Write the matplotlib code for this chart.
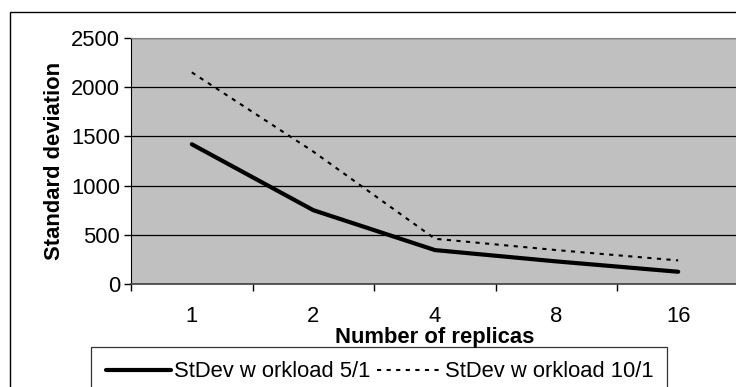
import matplotlib
import numpy as np
import matplotlib.pyplot as plt
from matplotlib.patches import Rectangle

matplotlib.use('Agg')

plt.rcParams['font.family'] = ['Liberation Sans', 'DejaVu Sans']

replicas = ['1', '2', '4', '8', '16']
stdev_5_1 = [1420, 750, 345, 230, 125]
stdev_10_1 = [2150, 1345, 460, 345, 240]
y_ticks = [0, 500, 1000, 1500, 2000, 2500]

fs = 15.8

fig = plt.figure(figsize=(7.36, 3.87), dpi=100)
ax = fig.add_axes([0.178, 0.266, 0.826, 0.636])
ax.set_facecolor('#c0c0c0')

x = np.arange(len(replicas))
l1, = ax.plot(x, stdev_5_1, color='black', lw=3, solid_capstyle='round',
              label='StDev w orkload 5/1')
l2, = ax.plot(x, stdev_10_1, color='black', lw=1.5, dashes=(2, 2.6),
              label='StDev w orkload 10/1')

ax.set_xlim(-0.5, len(replicas) - 0.5)
ax.set_ylim(0, 2500)
ax.set_yticks(y_ticks)
ax.set_xticks(x)
ax.set_xticklabels(replicas)
ax.set_xticks(np.arange(len(replicas) + 1) - 0.5, minor=True)
ax.tick_params(axis='x', which='major', length=0, pad=16, labelsize=fs)
ax.tick_params(axis='x', which='minor', length=5, width=1, direction='out')
ax.tick_params(axis='y', length=5, width=1, direction='out', labelsize=fs, pad=3)
ax.yaxis.grid(True, color='black', lw=0.9)
ax.set_axisbelow(True)

ax.spines['right'].set_visible(False)
ax.spines['top'].set_color('#808080')
ax.spines['left'].set_color('black')
ax.spines['bottom'].set_color('#404040')
ax.spines['bottom'].set_linewidth(1.2)

ax.set_xlabel('Number of replicas', fontsize=fs, fontweight='bold', labelpad=0)
ax.set_ylabel('Standard deviation', fontsize=fs, fontweight='bold', labelpad=4)

leg = fig.legend(handles=[l1, l2], loc='upper left', bbox_to_anchor=(0.124, 0.103),
                 ncol=2, frameon=True, fancybox=False, fontsize=fs,
                 handlelength=3.0, handletextpad=0.1, columnspacing=0.3,
                 borderpad=0.65, borderaxespad=0)
leg.get_frame().set_edgecolor('black')
leg.get_frame().set_linewidth(0.9)

# outer chart border
fig.patches.append(Rectangle((10 / 736, -0.1), 1.2, 1 - 12 / 387 + 0.1,
                             transform=fig.transFigure, fill=False,
                             edgecolor='black', lw=1))

fig.savefig('out.png', dpi=100)
